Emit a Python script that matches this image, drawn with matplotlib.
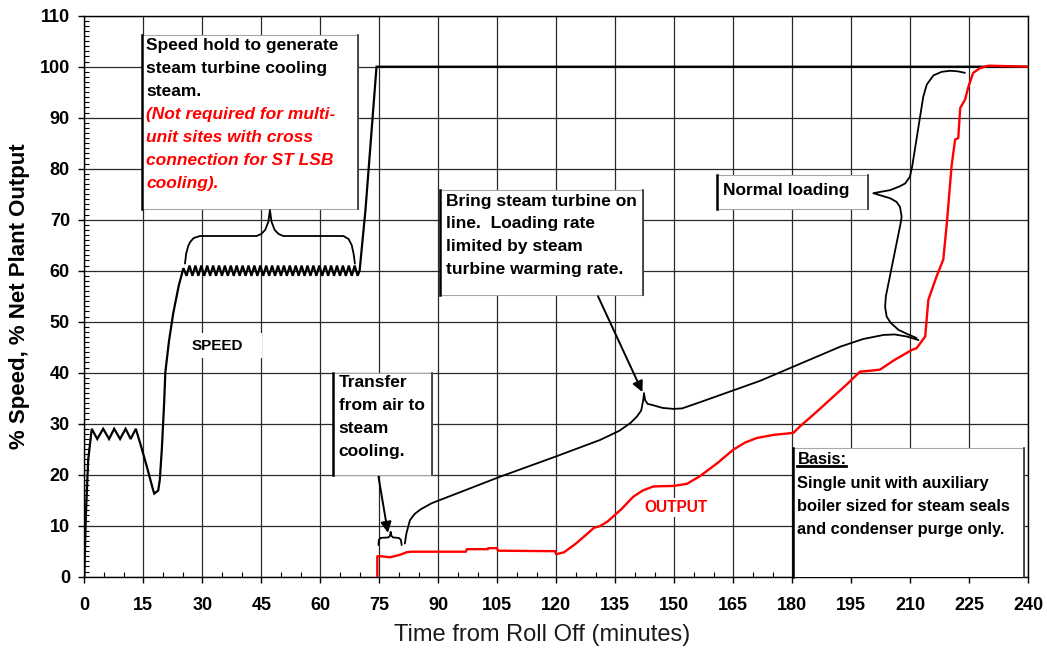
import matplotlib
matplotlib.use("Agg")
import matplotlib.pyplot as plt
from matplotlib.patches import Rectangle
from matplotlib.ticker import MultipleLocator

plt.rcParams["font.family"] = ["Liberation Sans", "DejaVu Sans"]

# --- SPEED trace (black) ---
speed_t = [0.0, 0.4, 1.0, 1.9, 3.3, 4.8, 6.3, 7.6, 9.1, 10.5, 11.8, 13.1,
           14.2, 15.9, 17.5, 17.8, 18.8, 19.2, 19.7, 20.3, 20.6, 21.5, 22.6, 24.0,
           25.2,
           26.0, 26.75, 27.5, 28.25, 29.0, 29.75, 30.5, 31.25, 32.0, 32.75,
           33.5, 34.25, 35.0, 35.75, 36.5, 37.25, 38.0, 38.75, 39.5, 40.25,
           41.0, 41.75, 42.5, 43.25, 44.0, 44.75, 45.5, 46.25, 47.0, 47.75,
           48.5, 49.25, 50.0, 50.75, 51.5, 52.25, 53.0, 53.75, 54.5, 55.25,
           56.0, 56.75, 57.5, 58.25, 59.0, 59.75, 60.5, 61.25, 62.0, 62.75,
           63.5, 64.25, 65.0, 65.75, 66.5, 67.25, 68.0, 68.75, 69.5,
           70.0, 71.5, 73.0, 74.3, 100.0, 160.0, 240.0]
speed_v = [0.0, 12.0, 23.0, 29.0, 27.0, 29.0, 27.0, 29.0, 27.0, 29.0, 27.0, 29.0,
           26.2, 21.6, 17.0, 16.3, 16.9, 19.0, 24.8, 34.0, 40.0, 46.0, 51.6, 57.0,
           60.5,
           59.0, 61.0, 59.0, 61.0, 59.0, 61.0, 59.0, 61.0, 59.0, 61.0,
           59.0, 61.0, 59.0, 61.0, 59.0, 61.0, 59.0, 61.0, 59.0, 61.0,
           59.0, 61.0, 59.0, 61.0, 59.0, 61.0, 59.0, 61.0, 59.0, 61.0,
           59.0, 61.0, 59.0, 61.0, 59.0, 61.0, 59.0, 61.0, 59.0, 61.0,
           59.0, 61.0, 59.0, 61.0, 59.0, 61.0, 59.0, 61.0, 59.0, 61.0,
           59.0, 61.0, 59.0, 61.0, 59.0, 61.0, 59.0, 61.0, 59.0,
           60.0, 72.0, 87.0, 100.0, 100.0, 100.0, 100.0]

# --- OUTPUT trace (red) ---
output_t = [74.5, 74.5, 75.6, 77.7, 80.3, 82.0, 83.0, 97.0, 97.3, 102.6, 102.7,
            104.9, 105.2, 119.7, 120.0, 122.0, 125.0, 128.0, 129.6, 131.1, 133.0,
            136.5, 139.6, 142.0, 144.7, 149.8, 153.2, 156.5, 161.0, 165.0, 168.0,
            171.0, 175.2, 180.3, 182.0, 186.0, 190.0, 194.0, 197.2, 200.0, 202.3,
            206.0, 210.5, 211.6, 213.8, 214.6, 216.7, 218.4, 219.3, 220.5, 221.4,
            222.2, 222.7, 223.9, 224.8, 226.0, 227.7, 229.9, 240.0]
output_v = [0.0, 4.0, 4.0, 3.8, 4.3, 4.8, 4.9, 4.9, 5.4, 5.4, 5.6,
            5.6, 5.1, 5.0, 4.4, 4.8, 6.5, 8.5, 9.6, 9.9, 10.8,
            13.2, 15.7, 16.9, 17.7, 17.8, 18.2, 19.7, 22.3, 24.9, 26.3,
            27.2, 27.8, 28.2, 29.5, 32.2, 35.0, 37.8, 40.2, 40.4, 40.6,
            42.5, 44.5, 44.8, 47.1, 54.3, 58.9, 62.2, 69.3, 80.5, 85.7,
            86.0, 91.9, 93.5, 96.1, 98.8, 99.7, 100.2, 100.0]

# --- annotation braces / connectors ---
hold_brace_t = [25.6, 25.9, 26.4, 26.9, 27.8, 29.4, 43.8, 45.0, 46.0, 46.8, 47.2,
                47.6, 48.4, 49.4, 50.6, 65.9, 67.2, 68.0, 68.5, 68.8]
hold_brace_v = [61.4, 63.3, 64.8, 65.6, 66.4, 66.8, 66.8, 67.2, 68.0, 69.6, 71.9,
                69.6, 68.0, 67.2, 66.8, 66.8, 66.2, 65.0, 63.2, 61.4]

transfer_brace_t = [74.8, 74.9, 75.3, 77.3, 77.7, 77.9, 78.1, 78.5, 80.0, 80.5, 80.7]
transfer_brace_v = [6.2, 7.2, 7.6, 7.7, 8.0, 8.8, 8.0, 7.7, 7.6, 7.2, 6.2]

online_brace_t = [81.5, 81.9, 82.8, 84.0, 85.5, 88.3, 105.7, 120.0, 131.1, 136.0,
                  138.8, 140.5, 141.6, 142.1, 142.3, 142.6, 143.2, 144.7, 147.0,
                  149.8, 152.0, 156.5, 171.8, 192.2, 198.0, 203.2, 206.0, 209.1, 212.1]
online_brace_v = [6.5, 8.5, 11.1, 12.3, 13.2, 14.4, 19.6, 23.6, 26.8, 28.6,
                  30.1, 31.4, 32.6, 34.6, 36.0, 34.6, 33.9, 33.6, 33.1,
                  32.9, 33.0, 34.2, 38.4, 45.1, 46.6, 47.4, 47.5, 47.1, 46.4]

normal_brace_t = [211.6, 209.5, 207.0, 205.0, 204.0, 203.6, 203.8, 207.6, 207.8,
                  207.4, 206.5, 204.9, 200.6, 204.9, 207.2, 208.7, 209.9, 210.5,
                  213.3, 214.2, 215.9, 218.0, 220.1, 222.0, 223.9]
normal_brace_v = [46.8, 47.5, 48.4, 49.8, 51.0, 52.9, 55.0, 69.5, 70.6,
                  72.5, 73.5, 74.2, 75.2, 75.8, 76.5, 77.1, 78.4, 80.5,
                  94.1, 96.5, 98.3, 99.0, 99.2, 99.1, 98.8]

# arrows: (tail, head)
transfer_arrow = [(74.8, 19.6), (77.2, 8.6)]
online_arrow = [(130.6, 55.0), (141.9, 36.2)]

# note boxes: (x0, y0, x1, y1)
hold_box = (14.7, 72.0, 69.6, 106.3)
online_box = (90.5, 55.2, 142.1, 75.9)
transfer_box = (63.2, 20.0, 88.4, 40.0)
normal_box = (160.9, 72.0, 199.3, 78.8)
basis_box = (180.3, 0.0, 239.0, 25.2)

hold_text = "Speed hold to generate\nsteam turbine cooling\nsteam."
hold_note = "(Not required for multi-\nunit sites with cross\nconnection for ST LSB\ncooling)."
online_text = "Bring steam turbine on\nline.  Loading rate\nlimited by steam\nturbine warming rate."
transfer_text = "Transfer\nfrom air to\nsteam\ncooling."
normal_text = "Normal loading"
basis_title = "Basis:"
basis_text = "Single unit with auxiliary\nboiler sized for steam seals\nand condenser purge only."

x_ticks = list(range(0, 241, 15))
y_ticks = list(range(0, 111, 10))

fig = plt.figure(figsize=(10.47, 6.54), dpi=100)
ax = fig.add_axes([0.0805, 0.1182, 0.9016, 0.8578])
ax.set_xlim(0, 240)
ax.set_ylim(0, 110)
ax.set_xticks(x_ticks)
ax.set_yticks(y_ticks)
ax.xaxis.set_minor_locator(MultipleLocator(5))
ax.yaxis.set_minor_locator(MultipleLocator(1))
ax.tick_params(which="major", direction="out", length=4.3, width=1.0, labelsize=13)
ax.tick_params(axis="x", which="major", pad=10)
ax.tick_params(axis="y", which="major", pad=6)
ax.tick_params(which="minor", direction="in", length=3.5, width=0.8)
for lab in ax.get_xticklabels() + ax.get_yticklabels():
    lab.set_fontweight("bold")
ax.grid(True, which="major", color="#2a2a2a", lw=0.9)
ax.set_axisbelow(True)
for s in ax.spines.values():
    s.set_linewidth(1.0)

ax.set_ylabel("% Speed, % Net Plant Output", fontsize=16, fontweight="bold", labelpad=7)
ax.set_xlabel("Time from Roll Off (minutes)", fontsize=17, color="#1a1a1a")
ax.xaxis.set_label_coords(0.4854, -0.085)


def note_box(b):
    x0, y0, x1, y1 = b
    ax.add_patch(Rectangle((x0, y0), x1 - x0, y1 - y0, fc="white", ec="#a8a8a8",
                           lw=0.8, zorder=3))
    ax.plot([x0, x0], [y0, y1], color="black", lw=1.8, zorder=4, clip_on=False)
    ax.plot([x1, x1], [y0, y1], color="#303030", lw=1.2, zorder=4, clip_on=False)


for b in (hold_box, online_box, transfer_box, normal_box, basis_box):
    note_box(b)

txt_kw = dict(fontsize=12.5, fontweight="bold", ha="left", va="top", zorder=5,
              linespacing=1.65)
ax.text(15.8, 105.6, hold_text, **txt_kw)
ax.text(15.8, 92.0, hold_note, color="red", style="italic", **txt_kw)
ax.text(92.0, 75.1, online_text, **txt_kw)
ax.text(64.7, 39.5, transfer_text, **txt_kw)
ax.text(162.3, 75.8, normal_text, fontsize=12.5, fontweight="bold", ha="left",
        va="center", zorder=5)
basis_kw = dict(txt_kw, fontsize=11.8, linespacing=1.66)
basis_lbl = ax.text(181.3, 24.4, basis_title, **basis_kw)
ax.text(181.3, 19.8, basis_text, **basis_kw)

# labels for the two traces
ax.add_patch(Rectangle((25.6, 42.8), 19.5, 4.9, fc="white", ec="none", zorder=2))
ax.text(27.2, 45.2, "SPEED", fontsize=11, fontweight="bold", va="center", zorder=5)
ax.text(150.5, 13.5, "OUTPUT", fontsize=11.2, fontweight="bold", color="red",
        ha="center", va="center", zorder=5,
        bbox=dict(fc="white", ec="none", pad=1.5))

# traces
ax.plot(speed_t, speed_v, color="black", lw=1.6, zorder=6, solid_joinstyle="miter")
ax.plot(output_t, output_v, color="red", lw=1.7, zorder=6)

# braces
for bt, bv in ((hold_brace_t, hold_brace_v), (transfer_brace_t, transfer_brace_v),
               (online_brace_t, online_brace_v), (normal_brace_t, normal_brace_v)):
    ax.plot(bt, bv, color="black", lw=1.3, zorder=6, solid_joinstyle="round",
            solid_capstyle="round")

for tail, head in (transfer_arrow, online_arrow):
    ax.annotate("", xy=head, xytext=tail, zorder=7,
                arrowprops=dict(arrowstyle="-|>", color="black", lw=1.4,
                                mutation_scale=16, shrinkA=0, shrinkB=0))

# underline "Basis:"
fig.canvas.draw()
bb = basis_lbl.get_window_extent().transformed(ax.transData.inverted())
ax.plot([bb.x0, bb.x1], [bb.y0 + 0.3, bb.y0 + 0.3], color="black", lw=2.0, zorder=6)

fig.savefig("out.png", dpi=100)
